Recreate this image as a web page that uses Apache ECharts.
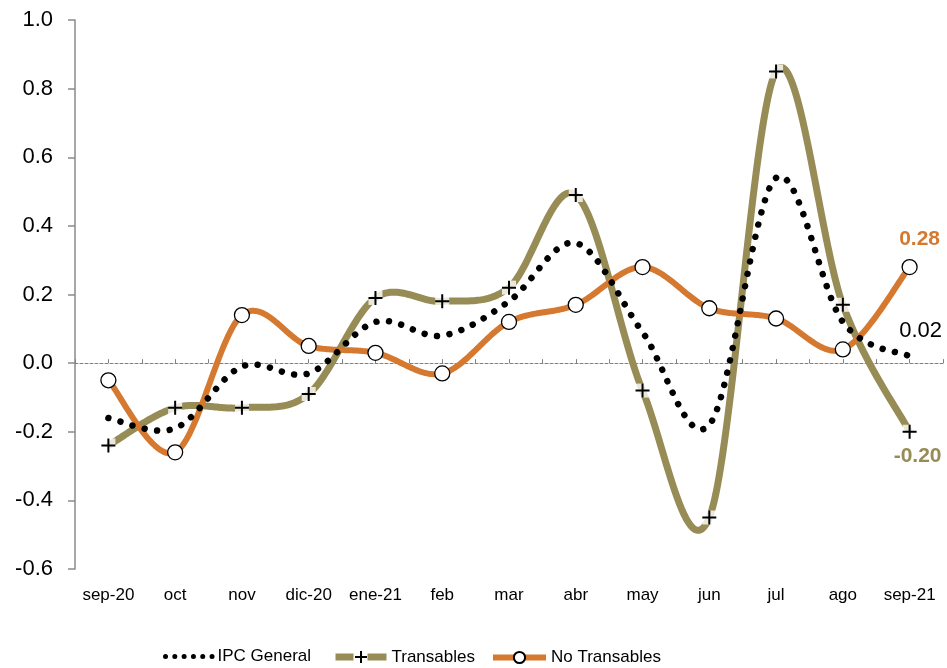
<!DOCTYPE html>
<html>
<head>
<meta charset="utf-8">
<script src="https://cdn.jsdelivr.net/npm/echarts@6/dist/echarts.min.js"></script>
<style>
  html, body { margin: 0; padding: 0; background: #fff; }
  #chart { width: 947px; height: 668px; }
</style>
</head>
<body>
<div id="chart"></div>
<script>
// Monthly variation (%) of the CPI and its tradable / non-tradable components
const categories = ['sep-20', 'oct', 'nov', 'dic-20', 'ene-21', 'feb', 'mar', 'abr', 'may', 'jun', 'jul', 'ago', 'sep-21'];
const ipcGeneral = [-0.16, -0.19, -0.01, -0.03, 0.12, 0.08, 0.18, 0.35, 0.09, -0.18, 0.54, 0.12, 0.02];
const transables = [-0.24, -0.13, -0.13, -0.09, 0.19, 0.18, 0.22, 0.49, -0.08, -0.45, 0.85, 0.17, -0.20];
const noTransables = [-0.05, -0.26, 0.14, 0.05, 0.03, -0.03, 0.12, 0.17, 0.28, 0.16, 0.13, 0.04, 0.28];
const seriesNames = ['IPC General', 'Transables', 'No Transables'];
const yMin = -0.6, yMax = 1.0, yStep = 0.2;

const OLIVE = '#978c55';
const ORANGE = '#d4792f';
const PLUS = 'path://M0,8L16,8M8,0L8,16';
const FONT = 'Liberation Sans, Arial, sans-serif';
const last = categories.length - 1;

// half-step categories: ticks on the zero line fall at every centre and boundary
const halfSteps = [];
categories.forEach(c => { halfSteps.push(c + '-a', c + '-b'); });

const lastLabel = (fmt) => (p) => (p.dataIndex === last ? fmt(p.value) : '');

// Cardinal (Catmull-Rom) smoothing in pixel space, tangent = (next - prev) / 6
function smoothPoints(pts, steps) {
  const out = [];
  const n = pts.length;
  for (let i = 0; i < n - 1; i++) {
    const p0 = pts[Math.max(i - 1, 0)];
    const p1 = pts[i];
    const p2 = pts[i + 1];
    const p3 = pts[Math.min(i + 2, n - 1)];
    const c1 = [p1[0] + (p2[0] - p0[0]) / 6, p1[1] + (p2[1] - p0[1]) / 6];
    const c2 = [p2[0] - (p3[0] - p1[0]) / 6, p2[1] - (p3[1] - p1[1]) / 6];
    for (let s = (i === 0 ? 0 : 1); s <= steps; s++) {
      const t = s / steps, u = 1 - t;
      const a = u * u * u, b = 3 * u * u * t, c = 3 * u * t * t, d = t * t * t;
      out.push([
        a * p1[0] + b * c1[0] + c * c2[0] + d * p2[0],
        a * p1[1] + b * c1[1] + c * c2[1] + d * p2[1]
      ]);
    }
  }
  return out;
}

// one smoothed curve per series, built from the data through the axis scales
function curveSeries(values, style, z) {
  return {
    type: 'custom',
    xAxisIndex: 1,
    z: z,
    silent: true,
    clip: false,
    data: values.map((v, i) => [i, v]),
    encode: { x: 0, y: 1 },
    renderItem: function (params, api) {
      if (params.dataIndex !== 0) return null;
      const pts = values.map((v, i) => api.coord([i, v]));
      return {
        type: 'polyline',
        shape: { points: smoothPoints(pts, 40) },
        style: Object.assign({ fill: null, lineJoin: 'round' }, style)
      };
    }
  };
}

const legendText = { fontFamily: FONT, fontSize: 17, color: '#000' };

const chart = echarts.init(document.getElementById('chart'));
chart.setOption({
  backgroundColor: '#fff',
  animation: false,
  grid: { left: 75, right: 4, top: 20, bottom: 99, containLabel: false },
  legend: [
    {
      left: 163, top: 648, padding: 0, itemWidth: 47, itemHeight: 16, textStyle: legendText,
      data: [{ name: seriesNames[0], lineStyle: { opacity: 1, width: 5, type: [0.01, 9.3], cap: 'round' } }]
    },
    {
      left: 332, top: 648.5, padding: 0, itemWidth: 51, itemHeight: 15, textStyle: legendText,
      data: [{ name: seriesNames[1], lineStyle: { opacity: 1, width: 7, type: [18, 14, 30] } }]
    },
    {
      left: 490, top: 649, padding: 0, itemWidth: 53, itemHeight: 14, textStyle: legendText,
      data: [{ name: seriesNames[2], lineStyle: { opacity: 1, width: 6 } }]
    }
  ],
  xAxis: [
    {
      type: 'category',
      data: halfSteps,
      boundaryGap: true,
      position: 'bottom',
      axisLine: { show: true, onZero: true, lineStyle: { color: '#808080', width: 1, type: [3, 2] } },
      axisTick: { show: true, inside: true, length: 4, interval: 0, lineStyle: { color: '#808080', width: 1 } },
      axisLabel: { show: false },
      splitLine: { show: false }
    },
    {
      type: 'category',
      data: categories,
      boundaryGap: true,
      position: 'bottom',
      axisLine: { show: false, onZero: false },
      axisTick: { show: false },
      axisLabel: { show: true, interval: 0, margin: 18, color: '#000', fontSize: 17, fontFamily: FONT },
      splitLine: { show: false }
    }
  ],
  yAxis: {
    type: 'value',
    min: yMin,
    max: yMax,
    interval: yStep,
    axisLine: { show: true, lineStyle: { color: '#8a8a8a', width: 1.5 } },
    axisTick: { show: true, inside: false, length: 7, lineStyle: { color: '#8a8a8a', width: 1.5 } },
    axisLabel: { margin: 22, color: '#000', fontSize: 22, fontFamily: FONT, formatter: v => v.toFixed(1) },
    splitLine: { show: false }
  },
  series: [
    curveSeries(transables, { stroke: OLIVE, lineWidth: 7 }, 2),
    {
      // white backing behind each tradable marker
      type: 'scatter',
      xAxisIndex: 1,
      data: transables,
      z: 3,
      silent: true,
      symbol: 'rect',
      symbolSize: 14,
      itemStyle: { color: '#fff' }
    },
    curveSeries(noTransables, { stroke: ORANGE, lineWidth: 6 }, 4),
    curveSeries(ipcGeneral, { stroke: '#000', lineWidth: 6.5, lineDash: [0.01, 12.6], lineCap: 'round' }, 5),
    {
      name: seriesNames[1],
      type: 'line',
      xAxisIndex: 1,
      data: transables,
      z: 6,
      symbol: PLUS,
      symbolSize: 14,
      lineStyle: { color: OLIVE, width: 7, opacity: 0 },
      itemStyle: { color: 'rgba(0,0,0,0)', borderColor: '#000', borderWidth: 2 },
      label: {
        show: true,
        position: 'bottom',
        distance: 6,
        offset: [8, 0],
        color: OLIVE,
        fontFamily: FONT,
        fontSize: 21,
        fontWeight: 'bold',
        formatter: lastLabel(v => v.toFixed(2))
      }
    },
    {
      name: seriesNames[2],
      type: 'line',
      xAxisIndex: 1,
      data: noTransables,
      z: 6,
      symbol: 'circle',
      symbolSize: 15,
      lineStyle: { color: ORANGE, width: 6, opacity: 0 },
      itemStyle: { color: '#fff', borderColor: '#000', borderWidth: 1.3 },
      label: {
        show: true,
        position: 'top',
        distance: 9,
        offset: [10, 0],
        color: ORANGE,
        fontFamily: FONT,
        fontSize: 21,
        fontWeight: 'bold',
        formatter: lastLabel(v => v.toFixed(2))
      }
    },
    {
      name: seriesNames[0],
      type: 'line',
      xAxisIndex: 1,
      data: ipcGeneral,
      z: 6,
      symbol: 'circle',
      symbolSize: 1,
      itemStyle: { color: 'rgba(0,0,0,0)', borderWidth: 0 },
      lineStyle: { color: '#000', width: 6.5, opacity: 0 },
      label: {
        show: true,
        position: 'top',
        distance: 14,
        offset: [11, 0],
        color: '#000',
        fontFamily: FONT,
        fontSize: 22,
        formatter: lastLabel(v => v.toFixed(2))
      }
    }
  ]
});
</script>
</body>
</html>
